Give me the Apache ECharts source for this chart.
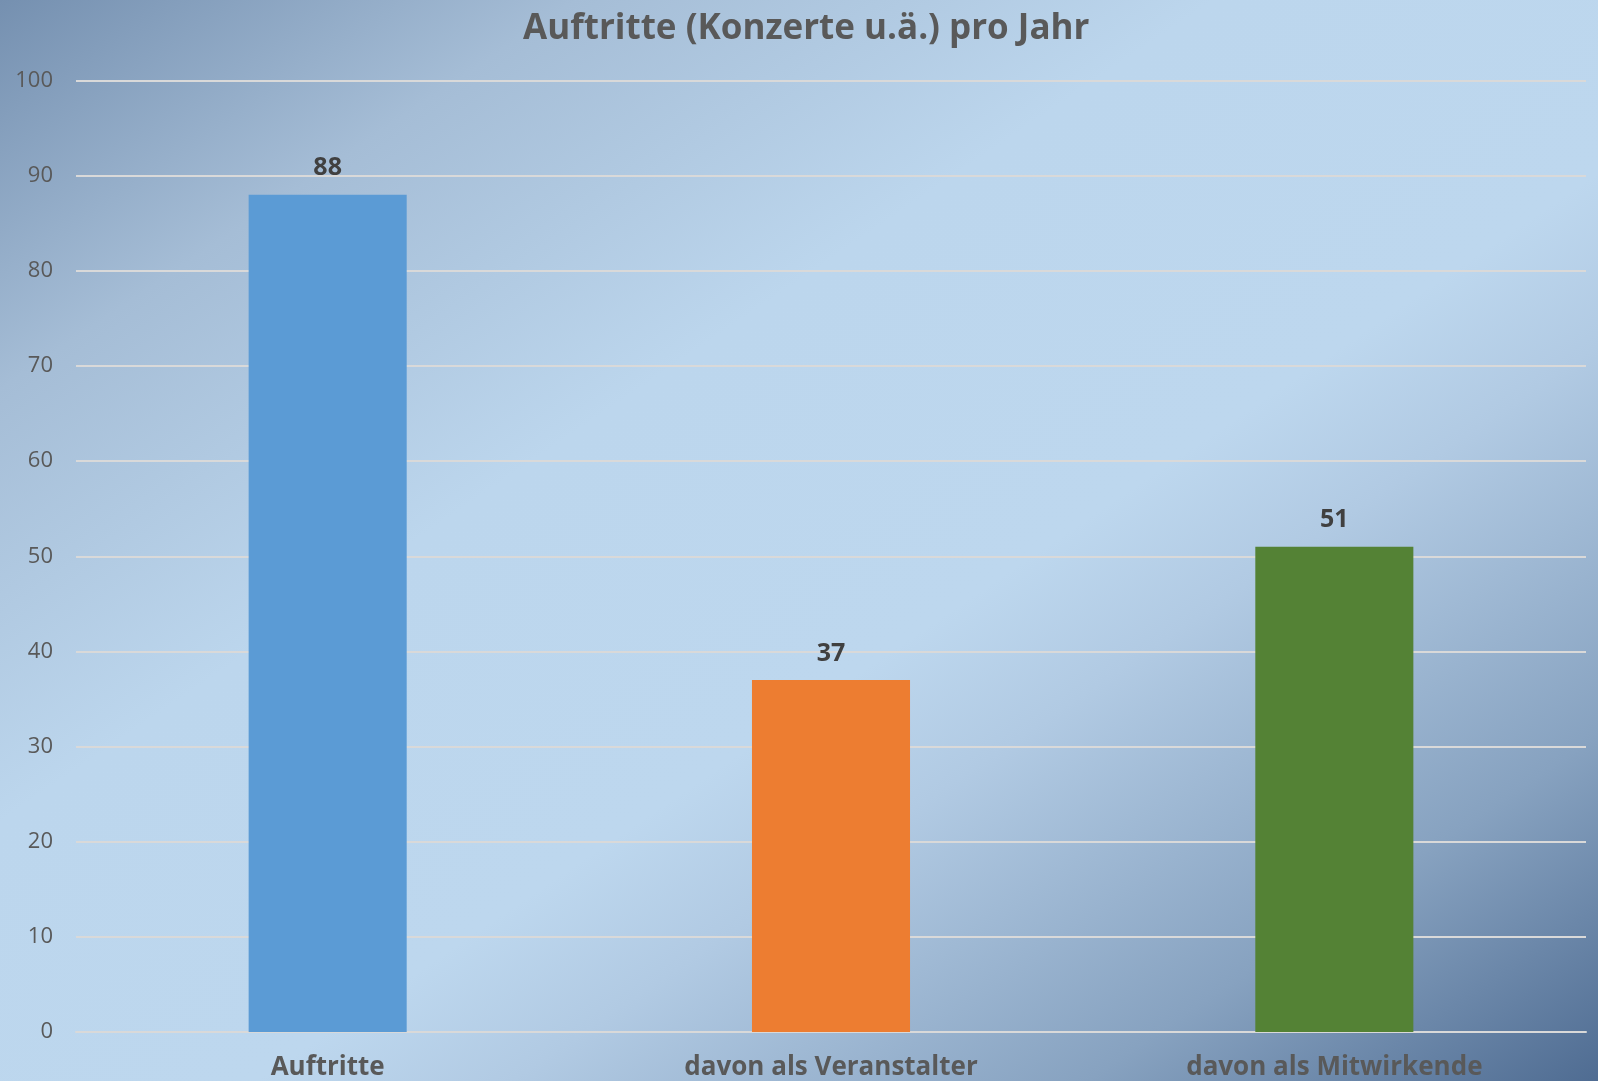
<!DOCTYPE html>
<html>
<head>
<meta charset="utf-8">
<script src="https://cdn.jsdelivr.net/npm/echarts@6/dist/echarts.min.js"></script>
<style>
html,body{margin:0;padding:0;width:1598px;height:1081px;overflow:hidden;}
#chart{width:1598px;height:1081px;}
</style>
</head>
<body>
<div id="chart"></div>
<script>
const titleText = 'Auftritte (Konzerte u.ä.) pro Jahr';
const categories = ['Auftritte', 'davon als Veranstalter', 'davon als Mitwirkende'];
const values = [88, 37, 51];
const yTicks = { min: 0, max: 100, interval: 10 };

const barColors = ['#5b9bd5', '#ed7d31', '#548235'];
const W = 1598, H = 1081;
const k = 2 * W * H / (W * W + H * H);

const chart = echarts.init(document.getElementById('chart'), null, { renderer: 'canvas' });
const FONT = '"Open Sans", "Liberation Sans", sans-serif';

chart.setOption({
  animation: false,
  backgroundColor: {
    type: 'linear', global: true,
    x: 0, y: 0, x2: H * k, y2: W * k,
    colorStops: [
      { offset: 0, color: '#7590b0' },
      { offset: 0.18, color: '#a5bdd6' },
      { offset: 0.38, color: '#bcd6ed' },
      { offset: 0.58, color: '#bdd7ee' },
      { offset: 0.66, color: '#b1cae3' },
      { offset: 0.84, color: '#87a2c0' },
      { offset: 1, color: '#4f6c92' }
    ]
  },
  title: {
    text: titleText,
    left: 518,
    top: 7,
    textStyle: { fontFamily: FONT, fontSize: 35, fontWeight: 'bold', color: '#595959' }
  },
  grid: { left: 76, right: 12, top: 80.7, bottom: 48.3, containLabel: false },
  xAxis: {
    type: 'category',
    data: categories,
    axisLine: { show: true, lineStyle: { color: '#d9d9d9', width: 2 } },
    axisTick: { show: false },
    axisLabel: {
      margin: 23,
      fontFamily: FONT, fontSize: 26, fontWeight: 'bold', color: '#595959'
    }
  },
  yAxis: {
    type: 'value',
    min: yTicks.min, max: yTicks.max, interval: yTicks.interval,
    axisLine: { show: false },
    axisTick: { show: false },
    splitLine: { lineStyle: { color: '#d9d9d9', width: 2 } },
    axisLabel: { margin: 23, fontFamily: FONT, fontSize: 22, color: '#595959' }
  },
  series: [{
    type: 'bar',
    barWidth: '31.4%',
    data: values.map((v, i) => ({ value: v, itemStyle: { color: barColors[i] } })),
    label: {
      show: true, position: 'top', distance: 14,
      fontFamily: FONT, fontSize: 25, fontWeight: 'bold', color: '#404040'
    }
  }]
});
</script>
</body>
</html>
